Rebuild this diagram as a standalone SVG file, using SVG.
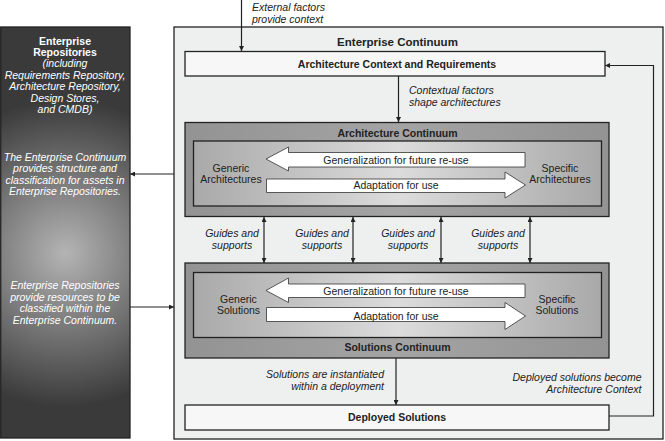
<svg xmlns="http://www.w3.org/2000/svg" width="665" height="441" viewBox="0 0 665 441">
<defs>
<style>
text{font-family:"Liberation Sans",Arial,sans-serif;font-size:10.5px;fill:#222}
.b{font-weight:bold}
.i{font-style:italic}
.w{fill:#fff}
.m{text-anchor:middle}
.e{text-anchor:end}
.box{stroke:#222;stroke-width:1.3}
.ln{stroke:#222;stroke-width:1.2;fill:none}
.big{fill:#fff;stroke:#333;stroke-width:0.8}
</style>
<radialGradient id="gL" cx="50%" cy="55%" r="75%" gradientTransform="translate(0.5 0.55) scale(1.6 0.5) translate(-0.5 -0.55)">
<stop offset="0" stop-color="#b4b4b4"/>
<stop offset="1" stop-color="#3a3a3a"/>
</radialGradient>
<linearGradient id="gI" x1="0" y1="0" x2="1" y2="0">
<stop offset="0" stop-color="#a9a9a9"/>
<stop offset="0.5" stop-color="#dcdcdc"/>
<stop offset="1" stop-color="#a9a9a9"/>
</linearGradient>
<linearGradient id="gO" x1="0" y1="0" x2="1" y2="0">
<stop offset="0" stop-color="#939393"/>
<stop offset="0.5" stop-color="#a4a4a4"/>
<stop offset="1" stop-color="#939393"/>
</linearGradient>
<marker id="ah" viewBox="0 0 10 10" refX="10" refY="5" markerWidth="5" markerHeight="5" orient="auto-start-reverse" markerUnits="userSpaceOnUse">
<path d="M0,0 L10,5 L0,10 z" fill="#222"/>
</marker>
</defs>

<g id="enterprise-repositories">
<rect x="0.7" y="27" width="129.3" height="411" fill="url(#gL)" class="box"/>
<text class="b w m" x="65" y="44.5">Enterprise</text>
<text class="b w m" x="65" y="55.5">Repositories</text>
<text class="i w m" x="65" y="67">(including</text>
<text class="i w m" x="65" y="78.5">Requirements Repository,</text>
<text class="i w m" x="65" y="90">Architecture Repository,</text>
<text class="i w m" x="65" y="101.5">Design Stores,</text>
<text class="i w m" x="65" y="113">and CMDB)</text>
<text class="i w m" x="65" y="160.5">The Enterprise Continuum</text>
<text class="i w m" x="65" y="172">provides structure and</text>
<text class="i w m" x="65" y="183.5">classification for assets in</text>
<text class="i w m" x="65" y="195">Enterprise Repositories.</text>
<text class="i w m" x="65" y="289">Enterprise Repositories</text>
<text class="i w m" x="65" y="300.5">provide resources to be</text>
<text class="i w m" x="65" y="312">classified within the</text>
<text class="i w m" x="65" y="323.5">Enterprise Continuum.</text>
</g>

<g id="enterprise-continuum">
<rect x="174" y="27" width="489" height="412" fill="#eeefef" class="box"/>
<text class="b m" x="397.5" y="45.5" style="font-size:11.5px">Enterprise Continuum</text>
</g>

<g id="architecture-context">
<rect x="185" y="51.5" width="420" height="24.5" fill="#f7f7f7" class="box"/>
<text class="b m" x="397" y="67.5">Architecture Context and Requirements</text>
</g>

<g id="architecture-continuum">
<rect x="185" y="122.5" width="424" height="94" fill="url(#gO)" class="box"/>
<text class="b m" x="397.5" y="136.5">Architecture Continuum</text>
<rect x="193.5" y="141" width="408" height="65" fill="url(#gI)" class="box"/>
<path class="big" d="M266,159 L288.5,147 L288.5,152.5 L525,152.5 L525,167 L288.5,167 L288.5,171 Z"/>
<path class="big" d="M266.5,179 L505,179 L505,172 L525.5,185 L505,198 L505,192.5 L266.5,192.5 Z"/>
<text class="m" x="396" y="163.5">Generalization for future re-use</text>
<text class="m" x="396" y="189">Adaptation for use</text>
<text class="m" x="231" y="171.5">Generic</text>
<text class="m" x="231" y="183">Architectures</text>
<text class="m" x="560" y="171.5">Specific</text>
<text class="m" x="560" y="183">Architectures</text>
</g>

<g id="solutions-continuum">
<rect x="185" y="263" width="424" height="95" fill="url(#gO)" class="box"/>
<rect x="193.5" y="272.5" width="408" height="65" fill="url(#gI)" class="box"/>
<text class="b m" x="397.5" y="351">Solutions Continuum</text>
<path class="big" d="M266,290.5 L288.5,278 L288.5,284 L525,284 L525,297.5 L288.5,297.5 L288.5,302.5 Z"/>
<path class="big" d="M266.5,307.5 L505,307.5 L505,302.5 L525.5,316 L505,329.5 L505,321.5 L266.5,321.5 Z"/>
<text class="m" x="396" y="294.5">Generalization for future re-use</text>
<text class="m" x="396" y="319.5">Adaptation for use</text>
<text class="m" x="238.5" y="302.5">Generic</text>
<text class="m" x="238.5" y="314">Solutions</text>
<text class="m" x="557" y="302.5">Specific</text>
<text class="m" x="557" y="314">Solutions</text>
</g>

<g id="deployed-solutions">
<rect x="185" y="405" width="424" height="25" fill="#f7f7f7" class="box"/>
<text class="b m" x="397" y="421">Deployed Solutions</text>
</g>

<g id="connectors">
<line class="ln" x1="241.5" y1="0" x2="241.5" y2="51" marker-end="url(#ah)"/>
<line class="ln" x1="398.5" y1="76" x2="398.5" y2="122" marker-end="url(#ah)"/>
<line class="ln" x1="264" y1="217" x2="264" y2="263" marker-start="url(#ah)" marker-end="url(#ah)"/>
<line class="ln" x1="353" y1="217" x2="353" y2="263" marker-start="url(#ah)" marker-end="url(#ah)"/>
<line class="ln" x1="441" y1="217" x2="441" y2="263" marker-start="url(#ah)" marker-end="url(#ah)"/>
<line class="ln" x1="530" y1="217" x2="530" y2="263" marker-start="url(#ah)" marker-end="url(#ah)"/>
<line class="ln" x1="396" y1="358" x2="396" y2="405" marker-end="url(#ah)"/>
<polyline class="ln" points="609,416 653.5,416 653.5,65.5 605,65.5" marker-end="url(#ah)"/>
<line class="ln" x1="174" y1="174" x2="130" y2="174" marker-end="url(#ah)"/>
<line class="ln" x1="130" y1="307" x2="174" y2="307" marker-end="url(#ah)"/>
</g>

<g id="labels">
<text class="i" x="252" y="11">External factors</text>
<text class="i" x="252" y="23">provide context</text>
<text class="i" x="409" y="94">Contextual factors</text>
<text class="i" x="409" y="106">shape architectures</text>
<text class="i m" x="232" y="237">Guides and</text>
<text class="i m" x="232" y="249">supports</text>
<text class="i m" x="322" y="237">Guides and</text>
<text class="i m" x="322" y="249">supports</text>
<text class="i m" x="408" y="237">Guides and</text>
<text class="i m" x="408" y="249">supports</text>
<text class="i m" x="498" y="237">Guides and</text>
<text class="i m" x="498" y="249">supports</text>
<text class="i e" x="384" y="377.5">Solutions are instantiated</text>
<text class="i e" x="384" y="389.5">within a deployment</text>
<text class="i e" x="641.5" y="381">Deployed solutions become</text>
<text class="i e" x="641.5" y="393">Architecture Context</text>
</g>
</svg>
